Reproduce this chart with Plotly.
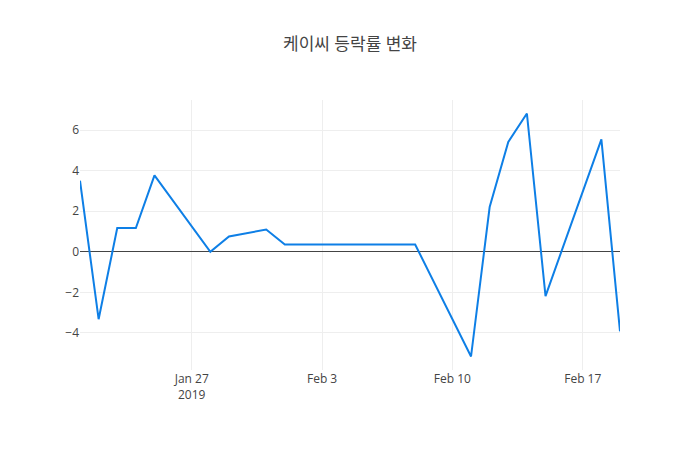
import plotly.graph_objects as go

dates = ["2019-01-21", "2019-01-22", "2019-01-23", "2019-01-24", "2019-01-25",
         "2019-01-28", "2019-01-29", "2019-01-31", "2019-02-01", "2019-02-07",
         "2019-02-08", "2019-02-11", "2019-02-12", "2019-02-13", "2019-02-14",
         "2019-02-15", "2019-02-18", "2019-02-19"]
change_pct = [3.51, -3.32, 1.17, 1.17, 3.77,
              0.0, 0.76, 1.10, 0.36, 0.36,
              0.36, -5.16, 2.21, 5.42, 6.82,
              -2.18, 5.54, -3.92]
title_text = "케이씨 등락률 변화"

fig = go.Figure(go.Scatter(
    x=dates, y=change_pct, mode="lines",
    line=dict(color="#0e7fe6", width=2),
))

fig.update_layout(
    template="none",
    width=692, height=442,
    margin=dict(l=72, r=80, t=92, b=80),
    title=dict(text=title_text, xref="paper", x=0.5, xanchor="center",
               yref="container", y=0.918, yanchor="middle",
               font=dict(size=17, color="#444")),
    font=dict(family="Open Sans, Noto Sans CJK KR, sans-serif", size=12, color="#444"),
    paper_bgcolor="white", plot_bgcolor="white",
    showlegend=False,
)
fig.update_xaxes(showgrid=True, gridcolor="#eee", zeroline=False, showline=False,
                 ticks="", type="date")
fig.update_yaxes(showgrid=True, gridcolor="#eee", zeroline=True, zerolinecolor="#444",
                 zerolinewidth=1, showline=False, ticks="")

fig.write_html("out.html")
